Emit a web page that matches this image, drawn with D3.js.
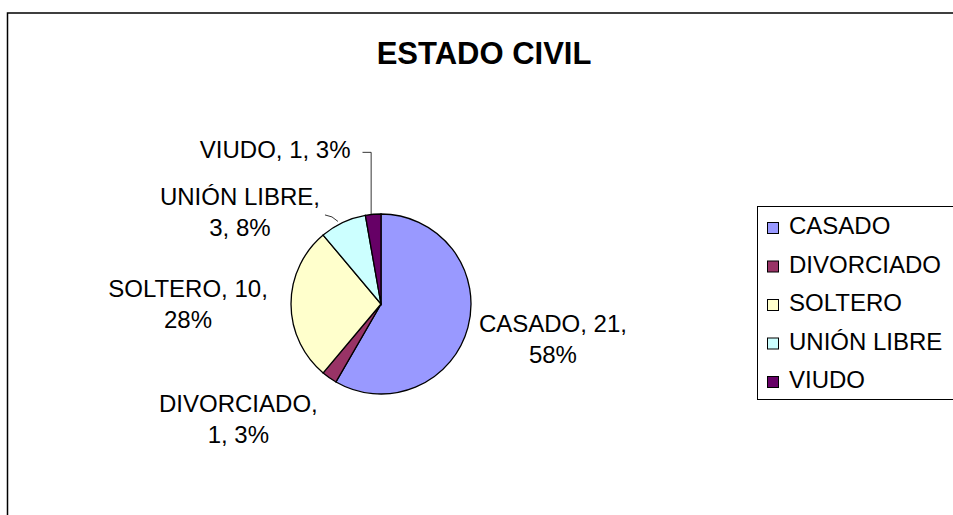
<!DOCTYPE html>
<html>
<head>
<meta charset="utf-8">
<script src="https://cdn.jsdelivr.net/npm/d3@7"></script>
<style>
  body { margin: 0; background: #fff; }
  text { font-family: "Liberation Sans", Arial, sans-serif; fill: #000; }
</style>
</head>
<body>
<svg id="chart" width="953" height="515"></svg>
<script>
// chart data
const categories = ["CASADO", "DIVORCIADO", "SOLTERO", "UNIÓN LIBRE", "VIUDO"];
const counts = [21, 1, 10, 3, 1];
const percents = ["58%", "3%", "28%", "8%", "3%"];
const colors = ["#9999FF", "#993366", "#FFFFCC", "#CCFFFF", "#660066"];

// label text lines (Excel wraps them this way)
const labelLines = [
    ["CASADO, 21,", "58%"],
    ["DIVORCIADO,", "1, 3%"],
    ["SOLTERO, 10,", "28%"],
    ["UNIÓN LIBRE,", "3, 8%"],
    ["VIUDO, 1, 3%"]
];

// layout
const W = 953, H = 515;
const cx = 381, cy = 304, r = 90;
const fontSize = 24, lineH = 31;
// nudge from the slice's outer mid point to the label centre
const labelNudge = [[85, 12], [-91, 41], [-103, 0], [-103, -10], [-98, -65]];

let svg = d3.select("#chart");

// chart area border
svg.append("rect")
    .attr("x", 7.5).attr("y", 13)
    .attr("width", W + 20).attr("height", H + 20)
    .attr("fill", "#fff")
    .attr("stroke", "#000")
    .attr("stroke-width", 1.5);

// title
svg.append("text")
    .attr("x", 484).attr("y", 64)
    .attr("text-anchor", "middle")
    .style("font-size", "31px")
    .style("font-weight", "bold")
    .text("ESTADO CIVIL");

let pie = d3.pie().sort(null).value(d => d);
let arcs = pie(counts);
let arc = d3.arc().innerRadius(0).outerRadius(r);

let g = svg.append("g").attr("transform", "translate(" + cx + "," + cy + ")");

g.selectAll("path")
    .data(arcs)
    .enter().append("path")
    .attr("d", arc)
    .attr("fill", (d, i) => colors[i])
    .attr("stroke", "#000")
    .attr("stroke-width", 1.3);

// outer mid point of each slice
function outerPoint(d, rad) {
    let a = (d.startAngle + d.endAngle) / 2;
    return [Math.sin(a) * rad, -Math.cos(a) * rad];
}

let labels = g.selectAll("text.lbl")
    .data(arcs)
    .enter().append("text")
    .attr("class", "lbl")
    .attr("text-anchor", "middle")
    .style("font-size", fontSize + "px")
    .attr("transform", function(d, i) {
        let p = outerPoint(d, r);
        return "translate(" + (p[0] + labelNudge[i][0]) + "," + (p[1] + labelNudge[i][1]) + ")";
    });

labels.each(function(d, i) {
    let lines = labelLines[i];
    let t = d3.select(this);
    let y0 = -(lines.length - 1) * lineH / 2;
    lines.forEach(function(s, j) {
        t.append("tspan")
            .attr("x", 0)
            .attr("y", y0 + j * lineH)
            .attr("dy", "0.35em")
            .text(s);
    });
});

// leader lines for the two thin slices at the top
function leader(pts) {
    g.append("polyline")
        .attr("points", pts.map(p => p.join(",")).join(" "))
        .attr("fill", "none")
        .attr("stroke", "#000")
        .attr("stroke-width", 0.8);
}
let pV = outerPoint(arcs[4], r);
let vBox = labels.filter((d, i) => i === 4).node().getBBox();
let vx = pV[0] + labelNudge[4][0] + vBox.width / 2 + 12;
let vy = pV[1] + labelNudge[4][1] + 3;
leader([[vx, vy], [pV[0] - 2, vy], [pV[0] - 2, pV[1]]]);

let pU = outerPoint(arcs[3], r);
let uBox = labels.filter((d, i) => i === 3).node().getBBox();
let ux = pU[0] + labelNudge[3][0] + uBox.width / 2 + 5;
let uy = pU[1] + labelNudge[3][1] - lineH / 2 + 18;
leader([[ux, uy], [ux + 7, uy + 2], [pU[0] - 5, pU[1] - 1]]);

// legend
let leg = svg.append("g").attr("transform", "translate(757,206)");
leg.append("rect")
    .attr("x", 0.5).attr("y", 0.5)
    .attr("width", 220).attr("height", 193)
    .attr("fill", "#fff")
    .attr("stroke", "#000")
    .attr("stroke-width", 1);

let legY = d3.scalePoint().domain(categories).range([20, 174]);

let items = leg.selectAll("g.item")
    .data(categories)
    .enter().append("g")
    .attr("class", "item")
    .attr("transform", d => "translate(0," + legY(d) + ")");

items.append("rect")
    .attr("x", 10.5).attr("y", -3.5)
    .attr("width", 11).attr("height", 11)
    .attr("fill", (d, i) => colors[i])
    .attr("stroke", "#000")
    .attr("stroke-width", 1);

items.append("text")
    .attr("x", 32)
    .attr("y", 0)
    .attr("dy", "0.35em")
    .style("font-size", fontSize + "px")
    .text(d => d);
</script>
</body>
</html>
